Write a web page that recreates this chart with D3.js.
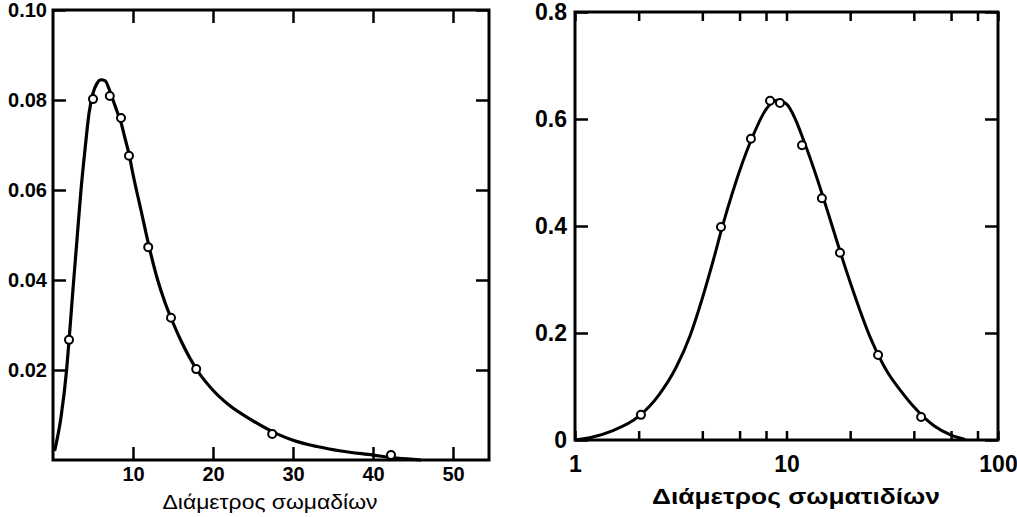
<!DOCTYPE html>
<html>
<head>
<meta charset="utf-8">
<script src="https://cdn.jsdelivr.net/npm/d3@7"></script>
<style>
  body { margin: 0; background: #fff; }
  text { fill: #000; }
</style>
</head>
<body>
<svg id="svg" width="1017" height="517"></svg>
<script>
// Left chart: linear diameter axis
let leftCurveX = [0.2, 1, 1.7, 2, 2.5, 3, 3.5, 4, 4.5, 5, 5.5, 6, 6.5, 7, 7.5, 8, 8.5, 9, 9.5, 10, 11, 12, 13, 14, 15, 16, 18, 20, 22, 25, 28, 30, 33, 36, 40, 43, 46];
let leftCurveY = [0.002, 0.0095, 0.020, 0.0265, 0.038, 0.049, 0.060, 0.069, 0.077, 0.0815, 0.0837, 0.0845, 0.0843, 0.0825, 0.0800, 0.0775, 0.0750, 0.0715, 0.0680, 0.0635, 0.0555, 0.0475, 0.0405, 0.0350, 0.0305, 0.0265, 0.0200, 0.0155, 0.0122, 0.0087, 0.0058, 0.0044, 0.0030, 0.0020, 0.0011, 0.0004, 0.0];
let leftPointsX = [2.0, 5.0, 7.1, 8.5, 9.5, 11.9, 14.75, 17.9, 27.4, 42.25];
let leftPointsY = [0.0267, 0.0802, 0.0809, 0.0760, 0.0676, 0.0473, 0.0316, 0.0202, 0.0058, 0.0011];
let leftXTicks = [10, 20, 30, 40, 50];
let leftYTicks = [0.02, 0.04, 0.06, 0.08, 0.10];
let leftTitle = "Διάμετρος σωμαδίων";

// Right chart: log diameter axis
let rightCurveX = [1, 1.2, 1.5, 2, 2.5, 3, 3.5, 4, 4.5, 5, 5.5, 6, 7, 8, 9, 10, 11, 12, 14, 16, 18, 20, 25, 30, 35, 40, 50, 60, 70];
let rightCurveY = [0.0, 0.005, 0.017, 0.044, 0.085, 0.135, 0.195, 0.265, 0.335, 0.402, 0.457, 0.503, 0.572, 0.618, 0.635, 0.628, 0.600, 0.562, 0.487, 0.415, 0.350, 0.295, 0.190, 0.127, 0.090, 0.062, 0.026, 0.009, 0.001];
let rightPointsX = [2.05, 4.9, 6.79, 8.36, 9.31, 11.84, 14.7, 17.9, 27.1, 43.3];
let rightPointsY = [0.047, 0.398, 0.563, 0.634, 0.630, 0.551, 0.452, 0.350, 0.159, 0.043];
let rightXTicks = [1, 2, 4, 6, 8, 10, 20, 40, 60, 80, 100];
let rightXLabels = [1, 10, 100];
let rightYTicks = [0, 0.2, 0.4, 0.6, 0.8];
let rightTitle = "Διάμετρος σωματιδίων";

let svg = d3.select("#svg");
const tickFont = "'Liberation Sans', Arial, sans-serif";

function drawPanel(opts) {
    const x = opts.x, y = opts.y;
    const [x0, x1] = x.range();
    const [y0, y1] = y.range();
    const g = svg.append("g");

    // tick marks on all four sides, pointing inward
    g.append("g").attr("transform", `translate(0,${y0})`)
        .call(d3.axisBottom(x).tickValues(opts.xTicks).tickSize(-opts.xTickLen).tickPadding(opts.xPad)
            .tickFormat(d => opts.xLabels.includes(d) ? opts.xFormat(d) : ""));
    g.append("g").attr("transform", `translate(0,${y1})`)
        .call(d3.axisTop(x).tickValues(opts.xTicks).tickSize(-opts.xTickLen).tickFormat(""));
    g.append("g").attr("transform", `translate(${x0},0)`)
        .call(d3.axisLeft(y).tickValues(opts.yTicks).tickSize(-opts.yTickLen).tickPadding(opts.yPad)
            .tickFormat(opts.yFormat));
    g.append("g").attr("transform", `translate(${x1},0)`)
        .call(d3.axisRight(y).tickValues(opts.yTicks).tickSize(-opts.yTickLen).tickFormat(""));

    g.selectAll(".domain").remove();
    g.selectAll(".tick line").attr("stroke", "#000").attr("stroke-width", 2.5);
    g.selectAll(".tick text")
        .style("font-family", tickFont)
        .style("font-weight", "bold")
        .style("font-size", opts.tickFontSize + "px")
        .attr("fill", "#000");

    // frame
    g.append("rect")
        .attr("x", x0).attr("y", y1)
        .attr("width", x1 - x0).attr("height", y0 - y1)
        .attr("fill", "none").attr("stroke", "#000").attr("stroke-width", 3);

    const line = d3.line()
        .x(d => x(d[0]))
        .y(d => y(d[1]))
        .curve(d3.curveMonotoneX);

    g.append("path")
        .datum(opts.curveX.map((v, i) => [v, opts.curveY[i]]))
        .attr("d", line)
        .attr("fill", "none")
        .attr("stroke", "#000")
        .attr("stroke-width", opts.lineWidth);

    g.selectAll(".pt")
        .data(opts.ptsX.map((v, i) => [v, opts.ptsY[i]]))
        .join("circle")
        .attr("cx", d => x(d[0]))
        .attr("cy", d => y(d[1]))
        .attr("r", 4)
        .attr("fill", "#fff")
        .attr("stroke", "#000")
        .attr("stroke-width", 2);

    g.append("text")
        .attr("x", opts.titleX)
        .attr("y", opts.titleY)
        .attr("text-anchor", "middle")
        .attr("textLength", opts.titleLen)
        .attr("lengthAdjust", "spacingAndGlyphs")
        .style("font-family", "'Liberation Sans', Arial, sans-serif")
        .style("font-weight", opts.titleWeight)
        .style("font-size", opts.titleSize + "px")
        .text(opts.title);
}

drawPanel({
    x: d3.scaleLinear().domain([0, 54.5]).range([53, 489]),
    y: d3.scaleLinear().domain([0, 0.1]).range([460, 10]),
    xTicks: leftXTicks, xLabels: leftXTicks, xFormat: d3.format("d"),
    yTicks: leftYTicks, yFormat: d3.format(".2f"),
    xTickLen: 13, yTickLen: 13, xPad: 7, yPad: 6, tickFontSize: 20,
    curveX: leftCurveX, curveY: leftCurveY, ptsX: leftPointsX, ptsY: leftPointsY,
    lineWidth: 3.2,
    title: leftTitle, titleX: 270, titleY: 509, titleLen: 215, titleSize: 20, titleWeight: "normal"
});

drawPanel({
    x: d3.scaleLog().domain([1, 100]).range([575, 998]),
    y: d3.scaleLinear().domain([0, 0.8]).range([440, 12]),
    xTicks: rightXTicks, xLabels: rightXLabels, xFormat: d3.format("d"),
    yTicks: rightYTicks, yFormat: d => d === 0 ? "0" : d3.format(".1f")(d),
    xTickLen: 9, yTickLen: 13, xPad: 16, yPad: 8, tickFontSize: 23,
    curveX: rightCurveX, curveY: rightCurveY, ptsX: rightPointsX, ptsY: rightPointsY,
    lineWidth: 3,
    title: rightTitle, titleX: 796, titleY: 504, titleLen: 288, titleSize: 22, titleWeight: "bold"
});
</script>
</body>
</html>
